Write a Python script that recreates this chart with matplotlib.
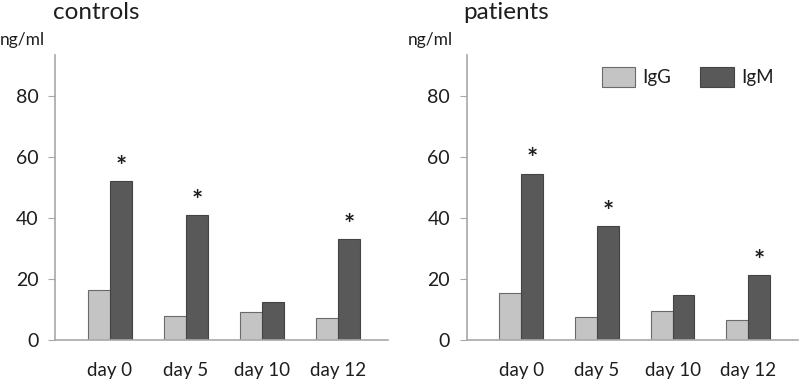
import matplotlib.pyplot as plt
import numpy as np

plt.rcParams['font.family'] = ['Lato', 'DejaVu Sans']

days = ['day 0', 'day 5', 'day 10', 'day 12']
controls_igg = [16.3, 7.7, 8.9, 7.0]
controls_igm = [52.0, 40.8, 12.3, 33.0]
patients_igg = [15.4, 7.5, 9.3, 6.4]
patients_igm = [54.5, 37.3, 14.7, 21.2]
# significance marks above IgM bars
controls_sig = [True, True, False, True]
patients_sig = [True, True, False, True]
yticks = [0, 20, 40, 60, 80]

light = '#c4c4c4'
dark = '#595959'
edge = '#6a6a6a'
axis_col = '#a8a8a8'
text_col = '#1e1e1e'


def draw_panel(ax, igg, igm, sig, title, unit_x, title_x):
    x = np.arange(len(days))
    w = 0.29
    ax.bar(x - w / 2, igg, w, color=light, edgecolor=edge, linewidth=0.8, label='IgG')
    ax.bar(x + w / 2, igm, w, color=dark, edgecolor='#444444', linewidth=0.8, label='IgM')
    for xi, v, s in zip(x, igm, sig):
        if s:
            ax.text(xi + w / 2, v + 0.8, '*', ha='center', va='bottom',
                    fontsize=19, fontweight='bold', color=text_col)

    ax.set_xlim(-0.724, 3.66)
    ax.set_ylim(0, 93.6)
    ax.set_yticks(yticks)
    ax.set_xticks(x)
    ax.set_xticklabels(days)
    for s in ['top', 'right']:
        ax.spines[s].set_visible(False)
    for s in ['left', 'bottom']:
        ax.spines[s].set_color(axis_col)
        ax.spines[s].set_linewidth(1.2)
    ax.tick_params(axis='y', length=5, color=axis_col, labelsize=14,
                   labelcolor=text_col, pad=7)
    ax.tick_params(axis='x', length=0, labelsize=13.5, labelcolor=text_col, pad=16)
    ax.text(unit_x, 1.035, 'ng/ml', transform=ax.transAxes, fontsize=12.5,
            color=text_col, ha='left', va='baseline')
    ax.text(title_x, 1.128, title, transform=ax.transAxes, fontsize=17.5,
            color=text_col, ha='left', va='baseline')


fig = plt.figure(figsize=(7.99, 3.79), dpi=100)
ax1 = fig.add_axes([0.0688, 0.1042, 0.4168, 0.7507])
ax2 = fig.add_axes([0.5841, 0.1042, 0.4147, 0.7507])

draw_panel(ax1, controls_igg, controls_igm, controls_sig, 'controls', -0.165, -0.006)
draw_panel(ax2, patients_igg, patients_igm, patients_sig, 'patients', -0.177, -0.011)

ax2.legend(loc='upper left', bbox_to_anchor=(601.5 / 799, 1 - 67 / 379),
           bbox_transform=fig.transFigure, ncol=2, frameon=False,
           handlelength=1.8, handleheight=1.25, handletextpad=0.4,
           columnspacing=1.5, borderpad=0, borderaxespad=0,
           fontsize=13.5, labelcolor=text_col)

fig.savefig('out.png', dpi=100)
